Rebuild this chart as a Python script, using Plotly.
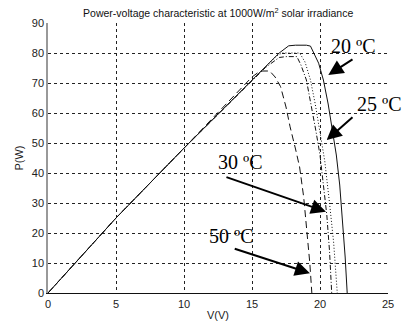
import plotly.graph_objects as go

# 20 °C (solid)
v20 = [0, 2, 5, 10, 15, 16, 17, 17.7, 18.2, 19.0, 19.3, 19.9, 20.25, 20.6, 20.9, 21.2, 21.45, 21.65, 21.85, 22.0]
p20 = [0, 10, 25, 48.3, 71, 75.5, 80, 82.4, 82.6, 82.6, 82.3, 76.6, 71, 63, 55, 46, 36, 25, 12, 0]
# 25 °C (dotted)
v25 = [0, 2, 5, 10, 15, 16, 16.8, 17.2, 18.5, 18.9, 19.3, 19.65, 20.0, 20.35, 20.7, 21.0, 21.27]
p25 = [0, 10, 25, 48.3, 71, 75.3, 79, 80, 80, 77, 71, 63, 54, 44, 30, 17, 0]
# 30 °C (dash-dot)
v30 = [0, 2, 5, 10, 15, 16, 17, 17.5, 18.3, 18.6, 19.0, 19.4, 19.7, 20.0, 20.25, 20.5, 20.7, 20.86]
p30 = [0, 10, 25, 48.3, 71, 75.2, 78.5, 78.8, 78.8, 76, 71, 62, 54, 46, 36, 26, 14, 0]
# 50 °C (dashed)
v50 = [0, 2, 5, 10, 15, 15.6, 16.3, 16.7, 17.1, 17.5, 17.8, 18.2, 18.5, 18.8, 19.05, 19.25, 19.4]
p50 = [0, 10, 25, 48.3, 72, 74, 74, 72, 68.8, 62, 55.4, 48, 42, 32, 20, 10, 0]

labels = ["20 ºC", "25 ºC", "30 ºC", "50 ºC"]
x_ticks = [0, 5, 10, 15, 20, 25]
y_ticks = [0, 10, 20, 30, 40, 50, 60, 70, 80, 90]

fig = go.Figure()
series = [(v20, p20, "solid"), (v25, p25, "1px,2px"), (v30, p30, "5px,2px,1px,2px"), (v50, p50, "7px,4px")]
for (v, p, d), name in zip(series, labels):
    fig.add_trace(go.Scatter(x=v, y=p, mode="lines", name=name,
                             line=dict(color="#111", width=1, dash=d), showlegend=False))

# annotation text and arrows (tip, tail, text position)
ann = [
    ("20 ºC", (20.61, 72.7), (22.5, 78.2), (22.43, 82.3)),
    ("25 ºC", (20.49, 51.0), (22.5, 59.0), (24.34, 63.0)),
    ("30 ºC", (20.44, 27.1), (13.01, 38.8), (14.19, 43.7)),
    ("50 ºC", (19.26, 6.6), (13.62, 14.9), (13.46, 19.0)),
]
for text, tip, tail, tpos in ann:
    fig.add_annotation(x=tip[0], y=tip[1], ax=tail[0], ay=tail[1], axref="x", ayref="y",
                       xref="x", yref="y", text="", showarrow=True,
                       arrowhead=2, arrowsize=1.5, arrowwidth=2, arrowcolor="black")
    fig.add_annotation(x=tpos[0], y=tpos[1], xref="x", yref="y", text=text, showarrow=False,
                       font=dict(family="Liberation Serif", size=20, color="black"))

fig.update_layout(
    width=404, height=324,
    margin=dict(l=48, r=16, t=23, b=31),
    paper_bgcolor="white", plot_bgcolor="white",
    font=dict(family="Liberation Sans", size=11, color="#222"),
    title=dict(text="Power-voltage characteristic at 1000W/m<sup>2</sup> solar irradiance",
               x=0.54, xanchor="center", y=0.958, yanchor="middle",
               font=dict(size=10.5, color="#111")),
)
fig.update_xaxes(range=[0, 25], tickvals=x_ticks, showgrid=True, gridcolor="#222",
                 griddash="dot", gridwidth=1, zeroline=False, showline=True,
                 linecolor="#111", linewidth=1, ticks="", ticklabelstandoff=1, automargin=False,
                 title=dict(text="V(V)", standoff=2, font=dict(size=11)))
fig.update_yaxes(range=[0, 90], tickvals=y_ticks, showgrid=True, gridcolor="#222",
                 griddash="dot", gridwidth=1, zeroline=False, showline=True,
                 linecolor="#999", linewidth=1.5, ticks="", automargin=False,
                 title=dict(text="P(W)", standoff=6, font=dict(size=11)))
fig.write_html("out.html")
